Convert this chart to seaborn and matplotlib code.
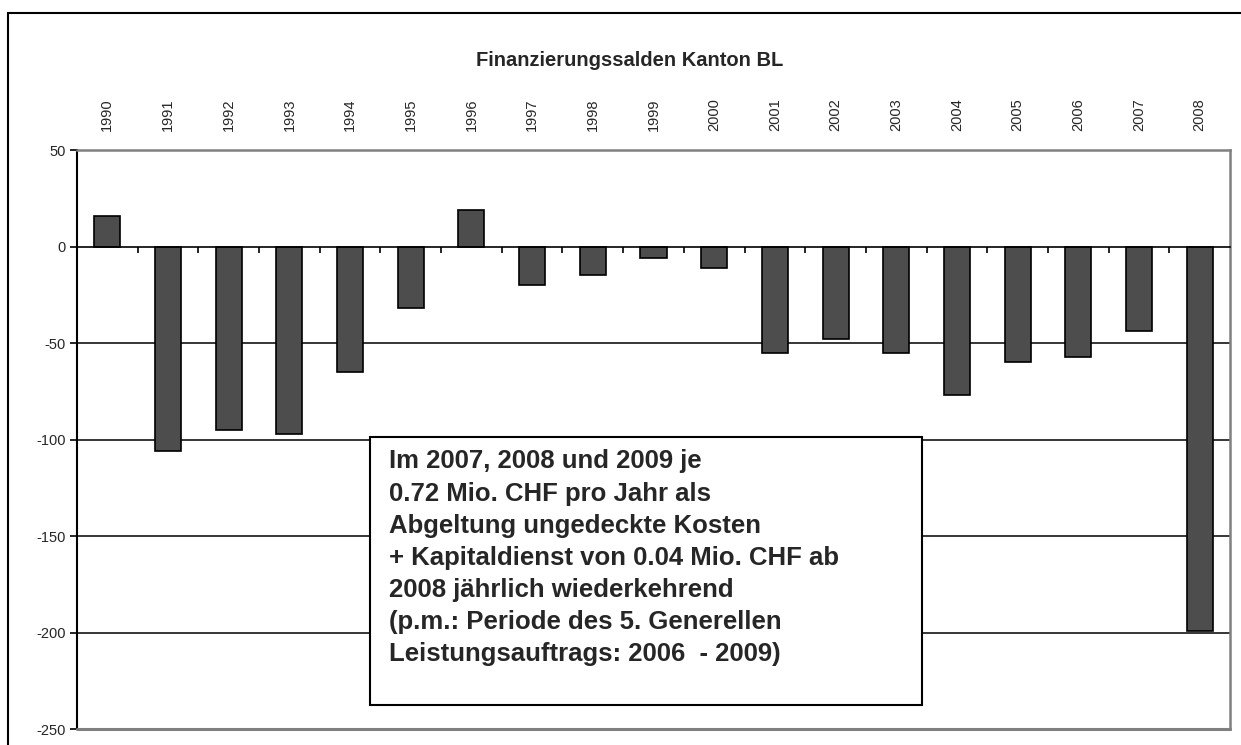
import numpy as np
import pandas as pd
import seaborn as sns
import matplotlib.pyplot as plt
from matplotlib.patches import Rectangle
from matplotlib.ticker import FixedLocator

years = [str(y) for y in range(1990, 2009)]
salden = [16, -106, -95, -97, -65, -32, 19, -20, -15, -6, -11,
          -55, -48, -55, -77, -60, -57, -44, -199]
y_ticks = [50, 0, -50, -100, -150, -200, -250]
title = "Finanzierungssalden Kanton BL"
note = ("Im 2007, 2008 und 2009 je\n"
        "0.72 Mio. CHF pro Jahr als\n"
        "Abgeltung ungedeckte Kosten\n"
        "+ Kapitaldienst von 0.04 Mio. CHF ab\n"
        "2008 jährlich wiederkehrend\n"
        "(p.m.: Periode des 5. Generellen\n"
        "Leistungsauftrags: 2006  - 2009)")

df = pd.DataFrame({"Jahr": years, "Saldo": salden})

sns.set_style("white")
plt.rcParams['font.family'] = ['Liberation Sans', 'DejaVu Sans']
plt.rcParams['axes.unicode_minus'] = False

fig = plt.figure(figsize=(12.41, 7.45), dpi=100)
ax = fig.add_axes([77/1241, 1-729/745, 1153/1241, 579/745])

sns.barplot(data=df, x="Jahr", y="Saldo", color="#4d4d4d", saturation=1,
            edgecolor="black", linewidth=1.2, width=0.43, ax=ax, zorder=3)

ax.set_xlim(-0.5, len(years) - 0.5)
ax.set_ylim(-250, 50)
ax.set_yticks(y_ticks)
ax.set_xlabel("")
ax.set_ylabel("")

# gridlines
for v in y_ticks[2:-1]:
    ax.axhline(v, color="black", lw=1.1, zorder=1)

# category axis sits at zero, labels on top
ax.spines["bottom"].set_position(("data", 0))
ax.spines["bottom"].set_color("black")
ax.spines["bottom"].set_linewidth(1.2)
ax.spines["bottom"].set_zorder(4)
ax.spines["left"].set_color("black")
ax.spines["left"].set_linewidth(1.5)
for s in ["top", "right"]:
    ax.spines[s].set_color("#808080")
    ax.spines[s].set_linewidth(1.8)
ax.axhline(-250, color="#808080", lw=2.2, clip_on=False, zorder=5)

ax.xaxis.set_minor_locator(FixedLocator(np.arange(0.5, len(years) - 0.5, 1)))
ax.tick_params(axis="x", which="major", length=0, labeltop=True, labelbottom=False,
               labelrotation=90, labelsize=10.5, pad=14)
ax.tick_params(axis="x", which="minor", bottom=True, length=4, width=1.2,
               direction="out", color="black")
ax.tick_params(axis="y", which="major", left=True, length=5, width=1.2,
               direction="out", labelsize=10.5, pad=3, color="black")

fig.text(630/1241, 1 - 61/745, title, ha="center", va="center",
         fontsize=14.5, fontweight="bold")

# note box
ax.add_patch(Rectangle((0.254, 0.0415), 0.479, 0.4625, transform=ax.transAxes,
                       facecolor="white", edgecolor="black", lw=1.5, zorder=6))
ax.text(0.2705, 0.483, note, transform=ax.transAxes, ha="left", va="top",
        fontsize=18.5, fontweight="bold", linespacing=1.43, zorder=7)

# outer chart frame
fig.add_artist(Rectangle((8/1241, -0.05), 1.1, 1 - 13/745 + 0.05,
                         transform=fig.transFigure, fill=False,
                         edgecolor="black", lw=1.5))

fig.savefig("out.png", dpi=100)
